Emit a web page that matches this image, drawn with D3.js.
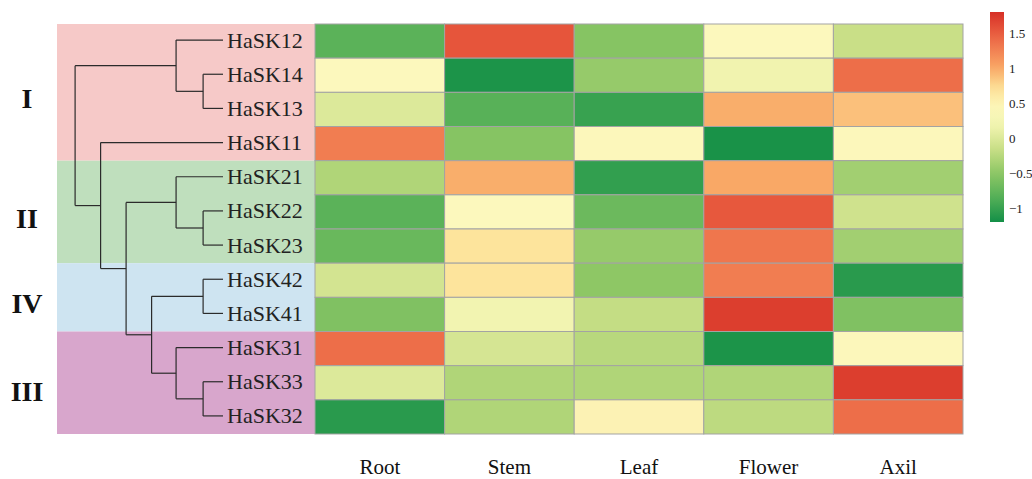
<!DOCTYPE html>
<html>
<head>
<meta charset="utf-8">
<script src="https://cdn.jsdelivr.net/npm/d3@7"></script>
<style>
  html, body { margin: 0; padding: 0; background: #fff; }
  svg { display: block; }
</style>
</head>
<body>
<svg id="chart" width="1032" height="479"></svg>
<script>
// Tissues (columns) and genes (rows, in dendrogram order)
const tissues = ["Root", "Stem", "Leaf", "Flower", "Axil"];
const genes = ["HaSK12", "HaSK14", "HaSK13", "HaSK11", "HaSK21", "HaSK22",
               "HaSK23", "HaSK42", "HaSK41", "HaSK31", "HaSK33", "HaSK32"];

// Relative expression values, one array per tissue, ordered like `genes`
const rootVals   = [-0.80,  0.40,  0.00,  1.28, -0.30, -0.80, -0.72, -0.07, -0.58,  1.38,  0.00, -1.08];
const stemVals   = [ 1.55, -1.15, -0.82, -0.55,  0.97,  0.40,  0.68,  0.68,  0.22, -0.05, -0.30, -0.30];
const leafVals   = [-0.55, -0.45, -1.00,  0.42, -1.03, -0.70, -0.45, -0.50, -0.18, -0.25, -0.30,  0.48];
const flowerVals = [ 0.40,  0.20,  0.97, -1.17,  1.00,  1.53,  1.33,  1.28,  1.70, -1.15, -0.30, -0.22];
const axilVals   = [-0.15,  1.38,  0.88,  0.42, -0.38, -0.10, -0.38, -1.08, -0.58,  0.42,  1.70,  1.38];
const seriesVals = [rootVals, stemVals, leafVals, flowerVals, axilVals];

// Legend ticks
const legendTicks = [-1, -0.5, 0, 0.5, 1, 1.5];
const legendDomain = [-1.2, 1.8];

// Subfamily groups: name and the genes they span
const groupNames = ["I", "II", "IV", "III"];
const groupFirst = ["HaSK12", "HaSK21", "HaSK42", "HaSK31"];
const groupLast  = ["HaSK11", "HaSK23", "HaSK41", "HaSK32"];
const groupFills = ["#f6c9c8", "#bfdfbd", "#cee4f1", "#d8a6cc"];

// Gene tree (node heights are branch depths)
const tree = {h: 5.8, children: [
  {h: 1.84, children: [
    {name: "HaSK12"},
    {h: 0.78, children: [{name: "HaSK14"}, {name: "HaSK13"}]}
  ]},
  {h: 4.8, children: [
    {name: "HaSK11"},
    {h: 3.8, children: [
      {h: 1.84, children: [
        {name: "HaSK21"},
        {h: 0.78, children: [{name: "HaSK22"}, {name: "HaSK23"}]}
      ]},
      {h: 2.8, children: [
        {h: 0.78, children: [{name: "HaSK42"}, {name: "HaSK41"}]},
        {h: 1.84, children: [
          {name: "HaSK31"},
          {h: 0.78, children: [{name: "HaSK33"}, {name: "HaSK32"}]}
        ]}
      ]}
    ]}
  ]}
]};

const svg = d3.select("#chart");
const serif = "'Liberation Serif', 'Times New Roman', serif";

// Scales
const x = d3.scaleBand().domain(tissues).range([315, 963]);
const y = d3.scaleBand().domain(genes).range([24, 434]);
const color = d3.scaleLinear()
  .domain([-1.2, -0.9, -0.5, -0.15, 0.15, 0.4, 0.7, 1.0, 1.3, 1.55, 1.8])
  .range(["#138f47", "#4aab55", "#8ec765", "#c9df87", "#eef2ac", "#fcf8bd",
          "#fde39a", "#f9a866", "#f07a50", "#e6553b", "#d62f26"])
  .clamp(true);
const depth = d3.scaleLinear().domain([0, 1]).range([223, 223 - 25.5]);

// Group background bands
const bandLeft = 57;
groupNames.forEach((g, i) => {
  const y0 = y(groupFirst[i]);
  const y1 = y(groupLast[i]) + y.bandwidth();
  svg.append("rect")
    .attr("x", bandLeft).attr("y", y0)
    .attr("width", x.range()[0] - bandLeft).attr("height", y1 - y0)
    .attr("fill", groupFills[i]);
});

// Group numerals
const numeralY = {I: 98.5, II: 218.5, IV: 303, III: 391};
svg.append("g").selectAll("text").data(groupNames).join("text")
  .attr("x", 27).attr("y", d => numeralY[d])
  .attr("text-anchor", "middle").attr("dominant-baseline", "central")
  .attr("font-family", serif).attr("font-weight", "bold").attr("font-size", 28)
  .attr("fill", "#111").text(d => d);

// Dendrogram
const root = d3.hierarchy(tree);
root.eachAfter(n => {
  if (!n.children) {
    n.py = y(n.data.name) + y.bandwidth() / 2 - 1;
    n.px = depth(0);
  } else {
    n.py = d3.mean(n.children, c => c.py);
    n.px = depth(n.data.h);
  }
});
const dg = svg.append("g").attr("fill", "none").attr("stroke", "#2b2b2b").attr("stroke-width", 1.2);
root.descendants().filter(n => n.children).forEach(n => {
  const ys = n.children.map(c => c.py);
  dg.append("line").attr("x1", n.px).attr("x2", n.px)
    .attr("y1", d3.min(ys)).attr("y2", d3.max(ys));
  n.children.forEach(c => {
    dg.append("line").attr("x1", n.px).attr("x2", c.px)
      .attr("y1", c.py).attr("y2", c.py);
  });
});

// Gene labels
svg.append("g").selectAll("text").data(genes).join("text")
  .attr("x", 227).attr("y", d => y(d) + y.bandwidth() / 2 - 1)
  .attr("dominant-baseline", "central")
  .attr("font-family", serif).attr("font-size", 22).attr("fill", "#222")
  .text(d => d);

// Heatmap cells
const cells = [];
tissues.forEach((t, j) => genes.forEach((g, i) => cells.push({t, g, v: seriesVals[j][i]})));
svg.append("g").selectAll("rect").data(cells).join("rect")
  .attr("x", d => x(d.t)).attr("y", d => y(d.g))
  .attr("width", x.bandwidth()).attr("height", y.bandwidth())
  .attr("fill", d => color(d.v))
  .attr("stroke", "#a3a3a3").attr("stroke-width", 1);

// Column labels
svg.append("g").selectAll("text").data(tissues).join("text")
  .attr("x", d => x(d) + x.bandwidth() / 2).attr("y", 474)
  .attr("text-anchor", "middle")
  .attr("font-family", serif).attr("font-size", 21).attr("fill", "#111")
  .text(d => d);

// Colour legend
const lg = {x: 990, y0: 12, y1: 222, w: 14};
const ly = d3.scaleLinear().domain(legendDomain).range([lg.y1, lg.y0]);
const defs = svg.append("defs");
const grad = defs.append("linearGradient").attr("id", "legendGrad")
  .attr("x1", 0).attr("y1", 1).attr("x2", 0).attr("y2", 0);
d3.range(0, 1.0001, 0.05).forEach(f => {
  const v = legendDomain[0] + f * (legendDomain[1] - legendDomain[0]);
  grad.append("stop").attr("offset", f).attr("stop-color", color(v));
});
svg.append("rect").attr("x", lg.x).attr("y", lg.y0)
  .attr("width", lg.w).attr("height", lg.y1 - lg.y0)
  .attr("fill", "url(#legendGrad)");
svg.append("g").selectAll("text").data(legendTicks).join("text")
  .attr("x", 1009).attr("y", d => ly(d))
  .attr("dominant-baseline", "central")
  .attr("font-family", serif).attr("font-size", 13).attr("fill", "#222")
  .text(d => d3.format("")(d));
</script>
</body>
</html>
